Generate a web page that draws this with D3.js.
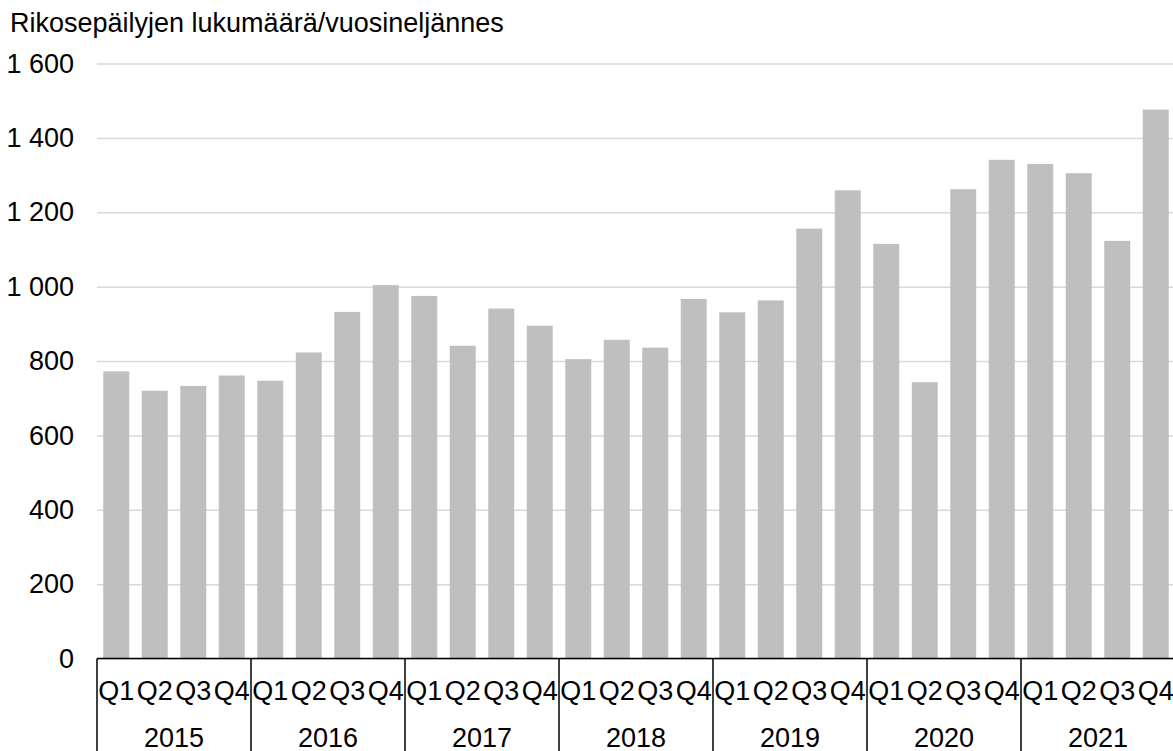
<!DOCTYPE html>
<html>
<head>
<meta charset="utf-8">
<script src="https://cdn.jsdelivr.net/npm/d3@7"></script>
<style>
  html, body { margin: 0; padding: 0; background: #fff; }
  svg { display: block; font-family: Arial, "Liberation Sans", sans-serif; }
</style>
</head>
<body>
<div id="chart"></div>
<script>
var title = "Rikosepäilyjen lukumäärä/vuosineljännes";
var years = ["2015", "2016", "2017", "2018", "2019", "2020", "2021"];
var quarters = ["Q1", "Q2", "Q3", "Q4"];
var yTicks = [0, 200, 400, 600, 800, 1000, 1200, 1400, 1600];
var values = [
    772, 720, 733, 761,
    747, 823, 932, 1004,
    975, 841, 941, 895,
    805, 857, 836, 967,
    931, 963, 1156, 1259,
    1115, 743, 1262, 1341,
    1330, 1305, 1123, 1476
];

var width = 1173, height = 751;
var plotLeft = 97, plotRight = 1175, plotTop = 63.5, plotBottom = 658.5;
var fontSize = 27;

// one entry per bar
var rows = [];
years.forEach(function (y, i) {
    quarters.forEach(function (q, j) {
        rows.push({ key: y + q, year: y, quarter: q, value: values[i * 4 + j] });
    });
});

var svg = d3.select("#chart").append("svg")
    .attr("width", width)
    .attr("height", height);

var x = d3.scaleBand()
    .domain(rows.map(function (d) { return d.key; }))
    .range([plotLeft, plotRight])
    .paddingInner(0.325)
    .paddingOuter(0.1625);

var xYear = d3.scaleBand()
    .domain(years)
    .range([plotLeft, plotRight]);

var y = d3.scaleLinear()
    .domain([0, 1600])
    .range([plotBottom, plotTop]);

var fmt = d3.formatLocale({ decimal: ",", thousands: " ", grouping: [3], currency: ["", ""] }).format(",d");

//title
svg.append("text")
    .attr("x", 10)
    .attr("y", 31.5)
    .attr("font-size", fontSize)
    .attr("fill", "#000")
    .text(title);

//gridlines + y labels
var yAxis = svg.append("g")
    .attr("transform", "translate(" + plotLeft + ",0)")
    .call(d3.axisLeft(y).tickValues(yTicks).tickSize(-(width - plotLeft)).tickPadding(23).tickFormat(fmt));
yAxis.select(".domain").remove();
yAxis.selectAll(".tick line").attr("stroke", "#d9d9d9").attr("stroke-width", 1.5);
yAxis.selectAll(".tick text")
    .attr("font-size", fontSize)
    .attr("font-family", "Arial, 'Liberation Sans', sans-serif")
    .attr("fill", "#000");

//bars
svg.append("g").selectAll("rect")
    .data(rows)
    .enter().append("rect")
    .attr("x", function (d) { return x(d.key); })
    .attr("y", function (d) { return y(d.value); })
    .attr("width", x.bandwidth())
    .attr("height", function (d) { return plotBottom - y(d.value); })
    .attr("fill", "#bfbfbf");

//quarter labels
var xAxis = svg.append("g")
    .attr("transform", "translate(0," + plotBottom + ")")
    .call(d3.axisBottom(x).tickSize(0).tickPadding(0).tickFormat(function (k) {
        return k.slice(4);
    }));
xAxis.select(".domain").remove();
xAxis.selectAll(".tick text")
    .attr("dy", null)
    .attr("y", 41.5)
    .attr("font-size", fontSize)
    .attr("font-family", "Arial, 'Liberation Sans', sans-serif")
    .attr("fill", "#000");

//year labels
svg.append("g").selectAll("text")
    .data(years)
    .enter().append("text")
    .attr("x", function (d) { return xYear(d) + xYear.bandwidth() / 2; })
    .attr("y", 746.5)
    .attr("text-anchor", "middle")
    .attr("font-size", fontSize)
    .attr("fill", "#000")
    .text(function (d) { return d; });

//axis line and year separators
svg.append("line")
    .attr("x1", plotLeft).attr("x2", width)
    .attr("y1", plotBottom).attr("y2", plotBottom)
    .attr("stroke", "#000").attr("stroke-width", 1.5);

var seps = years.map(function (d) { return xYear(d); });
svg.append("g").selectAll("line")
    .data(seps)
    .enter().append("line")
    .attr("x1", function (d) { return d; })
    .attr("x2", function (d) { return d; })
    .attr("y1", plotBottom)
    .attr("y2", height)
    .attr("stroke", "#000")
    .attr("stroke-width", 1.5);
</script>
</body>
</html>
